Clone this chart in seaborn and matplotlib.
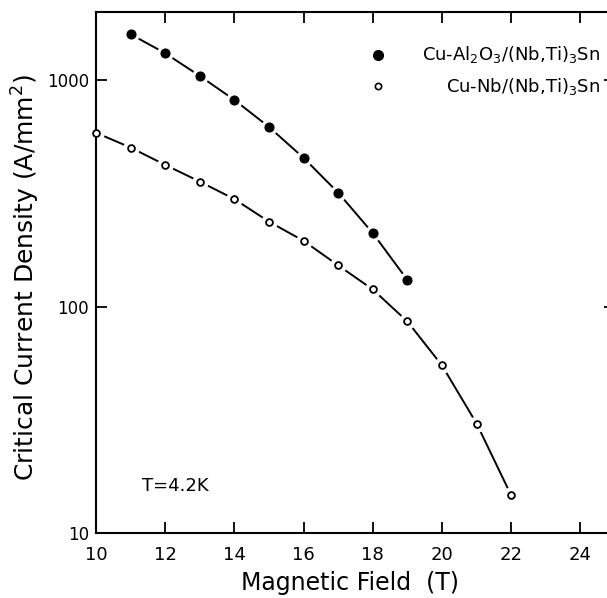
import numpy as np
import pandas as pd
import matplotlib
matplotlib.use("Agg")
import matplotlib.pyplot as plt
import seaborn as sns

# Data
field_al2o3 = [11, 12, 13, 14, 15, 16, 17, 18, 19]
jc_al2o3 = [1590, 1312, 1041, 816, 620, 453, 318, 211, 131]
field_nb = [10, 11, 12, 13, 14, 15, 16, 17, 18, 19, 20, 21, 22]
jc_nb = [585, 503, 422, 356, 298, 237, 195, 152, 119, 86, 55, 30.5, 14.7]
xticks = [10, 12, 14, 16, 18, 20, 22, 24]
yticks = [10, 100, 1000]
label_al2o3 = r"Cu-Al$_2$O$_3$/(Nb,Ti)$_3$Sn"
label_nb = r"Cu-Nb/(Nb,Ti)$_3$Sn"

sns.set_style("ticks")
plt.rcParams["font.family"] = ["DejaVu Sans"]
plt.rcParams["mathtext.fontset"] = "dejavusans"
for k in ("text.color", "axes.labelcolor", "xtick.color", "ytick.color",
          "axes.edgecolor"):
    plt.rcParams[k] = "black"

df_a = pd.DataFrame({"B": field_al2o3, "Jc": jc_al2o3})
df_n = pd.DataFrame({"B": field_nb, "Jc": jc_nb})

fig = plt.figure(figsize=(6.07, 5.98), dpi=100)
ax = fig.add_axes([96 / 607, 1 - 533.3 / 598, 519 / 607, (533.3 - 11.7) / 598])

lw = 1.4
# connecting lines, broken around each point by a white halo marker
for df in (df_a, df_n):
    sns.lineplot(data=df, x="B", y="Jc", ax=ax, color="black", linewidth=lw,
                 sort=False, marker="o", markersize=12,
                 markerfacecolor="white", markeredgecolor="white",
                 markeredgewidth=0, zorder=2, clip_on=False)

sns.scatterplot(data=df_a, x="B", y="Jc", ax=ax, color="black", s=42,
                edgecolor="black", linewidth=0.8, zorder=5, clip_on=False)
sns.scatterplot(data=df_n, x="B", y="Jc", ax=ax, facecolor="white", s=24,
                edgecolor="black", linewidth=1.3, zorder=5, clip_on=False)

ax.set_yscale("log")
ax.set_xlim(10, 25)
ax.set_ylim(10, 2000)
ax.set_xticks(xticks)
ax.set_xticklabels([str(v) for v in xticks])
ax.set_yticks(yticks)
ax.set_yticklabels([str(v) for v in yticks])
ax.yaxis.set_minor_locator(matplotlib.ticker.NullLocator())
ax.xaxis.set_minor_locator(matplotlib.ticker.NullLocator())

for s in ax.spines.values():
    s.set_linewidth(1.5)
    s.set_visible(True)
    s.set_zorder(4)

ax.tick_params(axis="both", which="major", direction="in", length=8, width=1.3,
               top=True, right=True, colors="black")
ax.tick_params(axis="x", labelsize=13, pad=9)
ax.tick_params(axis="y", labelsize=12, pad=5)

ax.set_xlabel("Magnetic Field  (T)", fontsize=17)
ax.set_ylabel(r"Critical Current Density (A/mm$^2$)", fontsize=18)
ax.xaxis.set_label_coords((350 - 96) / 519, -(583 - 533.3) / 521.6)
ax.yaxis.set_label_coords(-(96 - 26) / 519, 1 - (278 - 11.7) / 521.6)
ax.xaxis.label.set_va("center")
ax.yaxis.label.set_va("center")

# Legend drawn by hand (markers aligned, text right aligned)
ax.plot([0.543], [0.917], marker="o", color="black", markersize=7,
        transform=ax.transAxes, clip_on=False, zorder=6)
ax.plot([0.543], [0.8576], marker="o", markerfacecolor="white",
        markeredgecolor="black", markeredgewidth=1.2, markersize=4.5,
        transform=ax.transAxes, clip_on=False, zorder=6)
ax.text(0.971, 0.907, label_al2o3, transform=ax.transAxes, ha="right",
        va="baseline", fontsize=13)
ax.text(0.971, 0.846, label_nb, transform=ax.transAxes, ha="right",
        va="baseline", fontsize=13)

ax.text(0.0886, 0.0817, "T=4.2K", transform=ax.transAxes, ha="left",
        va="baseline", fontsize=13)

fig.savefig("out.png", dpi=100)
